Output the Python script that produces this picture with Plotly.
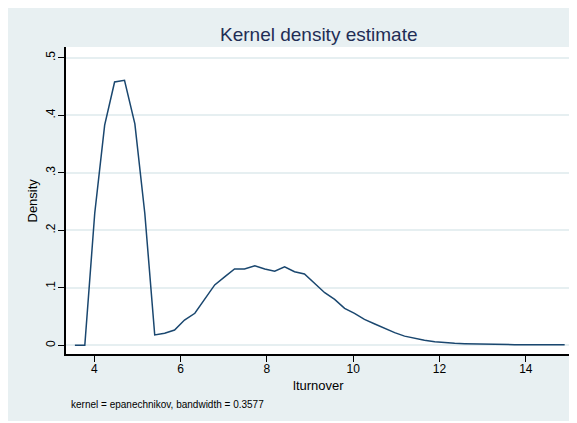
import plotly.graph_objects as go

# --- data ---
lturnover = [3.55, 3.78, 4.01, 4.24, 4.47, 4.70, 4.94, 5.17, 5.40, 5.63,
             5.86, 6.09, 6.33, 6.56, 6.79, 7.02, 7.25, 7.48, 7.72, 7.95,
             8.18, 8.41, 8.64, 8.87, 9.11, 9.34, 9.57, 9.80, 10.03, 10.26,
             10.50, 10.73, 10.96, 11.19, 11.42, 11.65, 11.89, 12.12, 12.35, 12.58,
             12.81, 13.04, 13.28, 13.51, 13.74, 13.97, 14.20, 14.43, 14.67, 14.90]
density = [0.0, 0.0, 0.2296, 0.383, 0.458, 0.461, 0.385, 0.2296, 0.018, 0.021,
           0.0266, 0.044, 0.0557, 0.080, 0.105, 0.119, 0.1327, 0.1327, 0.1385, 0.1327,
           0.129, 0.1367, 0.128, 0.124, 0.108, 0.0915, 0.080, 0.0643, 0.0557, 0.045,
           0.037, 0.029, 0.022, 0.016, 0.012, 0.0087, 0.0063, 0.0045, 0.0035, 0.0028,
           0.0022, 0.0018, 0.0014, 0.0012, 0.0011, 0.0010, 0.0010, 0.0010, 0.0010, 0.0009]
x_ticks = [4, 6, 8, 10, 12, 14]
y_ticks = [0, 0.1, 0.2, 0.3, 0.4, 0.5]
y_tick_labels = ["0", ".1", ".2", ".3", ".4", ".5"]
title_text = "Kernel density estimate"
x_title = "lturnover"
y_title = "Density"
note_text = "kernel = epanechnikov, bandwidth = 0.3577"

W, H = 568, 413
L, R, T, B = 58, 4, 39, 67
pw, ph = W - L - R, H - T - B
BG = "#e8f0f2"
FONT = "Liberation Sans, Arial, sans-serif"

def px_x(p):
    return (p - L) / pw

def px_y(p):
    return (H - B - p) / ph

fig = go.Figure()
fig.add_trace(go.Scatter(x=lturnover, y=density, mode="lines",
                         line=dict(color="#1a476f", width=1.5),
                         hoverinfo="skip", showlegend=False))

fig.update_layout(
    width=W, height=H,
    margin=dict(l=L, r=R, t=T, b=B, autoexpand=False),
    paper_bgcolor=BG, plot_bgcolor="white",
    font=dict(family=FONT, color="black", size=12),
    showlegend=False,
    annotations=[
        dict(text=title_text, xref="paper", yref="paper", x=0.5, y=px_y(27),
             xanchor="center", yanchor="middle", showarrow=False,
             font=dict(size=19, color="#1f2d55", family=FONT)),
        dict(text=x_title, xref="paper", yref="paper", x=px_x(310), y=px_y(377),
             xanchor="center", yanchor="middle", showarrow=False,
             font=dict(size=13, color="black", family=FONT)),
        dict(text=y_title, xref="paper", yref="paper", x=px_x(24), y=0.5,
             xanchor="center", yanchor="middle", showarrow=False, textangle=-90,
             font=dict(size=13, color="black", family=FONT)),
        dict(text=note_text, xref="paper", yref="paper", x=px_x(61), y=px_y(396),
             xanchor="left", yanchor="middle", showarrow=False,
             font=dict(size=10, color="black", family=FONT)),
    ],
)

fig.update_xaxes(range=[3.344, 15.07], tickvals=x_ticks,
                 ticktext=[str(v) for v in x_ticks],
                 showgrid=False, zeroline=False, showline=True,
                 linecolor="black", linewidth=1.5, ticks="outside", ticklen=6,
                 tickcolor="black", tickwidth=1.2, tickfont=dict(size=12),
                 ticklabelstandoff=-3, automargin=False)
fig.update_yaxes(range=[-0.0151, 0.5188], tickvals=y_ticks, ticktext=y_tick_labels,
                 tickangle=-90, showgrid=True, gridcolor="#e6eff1", gridwidth=1.5,
                 zeroline=False, showline=True, linecolor="black", linewidth=1.5,
                 ticks="outside", ticklen=6, tickcolor="black", tickwidth=1.2,
                 tickfont=dict(size=12), ticklabelstandoff=-2, automargin=False)

fig.write_html("out.html")
